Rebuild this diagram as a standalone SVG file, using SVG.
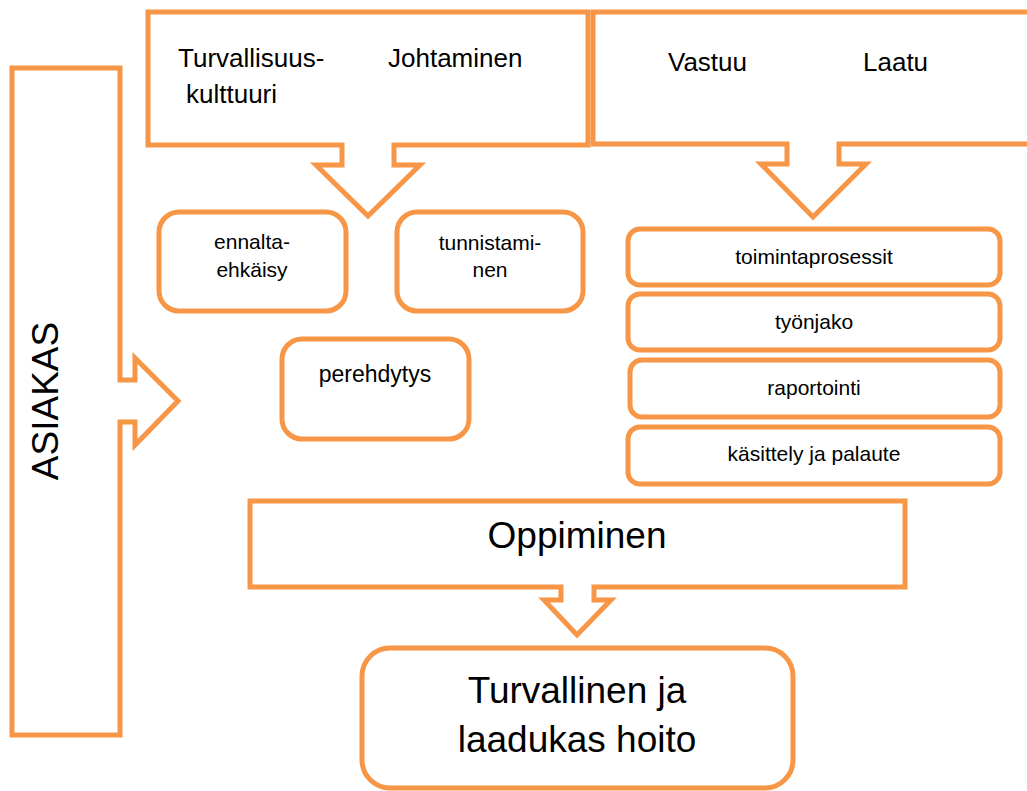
<svg xmlns="http://www.w3.org/2000/svg" width="1027" height="791" viewBox="0 0 1027 791">
<style>
.s{fill:#fff;stroke:#F79646;stroke-width:5;stroke-linejoin:miter}
.r{fill:#fff;stroke:#F79646;stroke-width:5}
text{font-family:"Liberation Sans",Arial,sans-serif;fill:#000}
.c{text-anchor:middle}
</style>
<rect width="1027" height="791" fill="#fff"/>
<g id="asiakas">
<polygon class="s" points="12,68 120,68 120,380 135,380 135,358 178,401 135,445 135,422 120,422 120,735 12,735"/>
<text class="c" font-size="37" transform="translate(58,401) rotate(-90)">ASIAKAS</text>
</g>
<g id="turvallisuus">
<polygon class="s" points="148,12 588,12 588,145 394,145 394,165 420,165 368,216 316,165 342,165 342,145 148,145"/>
<text font-size="26" x="178" y="67">Turvallisuus-</text>
<text font-size="26" x="186" y="103">kulttuuri</text>
<text font-size="26" x="388" y="67">Johtaminen</text>
</g>
<g id="vastuu">
<polygon class="s" points="593,12 1040,12 1040,144 839,144 839,164 866,164 813,217 761,164 787,164 787,144 593,144"/>
<text font-size="26" x="668" y="71">Vastuu</text>
<text font-size="26" x="863" y="71">Laatu</text>
</g>
<g id="ennalta">
<rect class="r" x="159" y="212" width="187" height="99" rx="20"/>
<text class="c" font-size="21" x="252" y="249">ennalta-</text>
<text class="c" font-size="21" x="252" y="277">ehkäisy</text>
</g>
<g id="tunnistaminen">
<rect class="r" x="397" y="212" width="186" height="99" rx="20"/>
<text class="c" font-size="21" x="490" y="250">tunnistami-</text>
<text class="c" font-size="21" x="490" y="277">nen</text>
</g>
<g id="perehdytys">
<rect class="r" x="282" y="339" width="187" height="100" rx="20"/>
<text class="c" font-size="23" x="375" y="382">perehdytys</text>
</g>
<g id="toimintaprosessit">
<rect class="r" x="628" y="229" width="372" height="56" rx="12"/>
<text class="c" font-size="21" x="814" y="264">toimintaprosessit</text>
</g>
<g id="tyonjako">
<rect class="r" x="628" y="294" width="372" height="56" rx="12"/>
<text class="c" font-size="21" x="814" y="329">työnjako</text>
</g>
<g id="raportointi">
<rect class="r" x="630" y="360" width="370" height="57" rx="12"/>
<text class="c" font-size="21" x="814" y="395">raportointi</text>
</g>
<g id="kasittely">
<rect class="r" x="628" y="427" width="372" height="57" rx="12"/>
<text class="c" font-size="21" x="814" y="461">käsittely ja palaute</text>
</g>
<g id="oppiminen">
<polygon class="s" points="250,501 905,501 905,587 594,587 594,600 611,600 577,635 544,600 561,600 561,587 250,587"/>
<text class="c" font-size="37" x="577" y="548">Oppiminen</text>
</g>
<g id="hoito">
<rect class="r" x="362" y="648" width="431" height="140" rx="28"/>
<text class="c" font-size="37" x="577" y="703">Turvallinen ja</text>
<text class="c" font-size="37" x="577" y="752">laadukas hoito</text>
</g>
<g id="connectors"></g>
</svg>
